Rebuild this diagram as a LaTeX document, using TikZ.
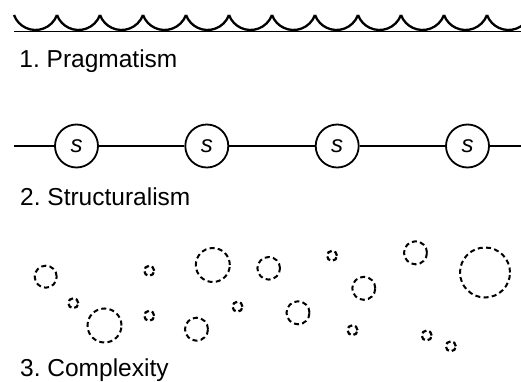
\documentclass[tikz,border=0pt]{standalone}
\usepackage{fontspec}
\setmainfont{Liberation Sans}
\frenchspacing
\begin{document}
\begin{tikzpicture}[x=1pt,y=1pt,
  caption/.style={anchor=base west,inner sep=0pt,font=\fontsize{24.5}{28}\selectfont},
  sbox/.style={circle,draw,line width=1.8pt,minimum size=43pt,inner sep=0pt,
    font=\fontsize{24}{26}\selectfont\itshape},
  link/.style={line width=1.8pt},
  scallop/.style={line width=2.3pt},
  bubble/.style={line width=2pt,dash pattern=on 5pt off 3.3pt},
  dot/.style={line width=2.2pt,dash pattern=on 5pt off 3pt}]
\useasboundingbox (0,0) rectangle (521,381);
\clip (0,0) rectangle (521,381);

% --- 1. scalloped edge above a base line
\draw[link] (14,349.5) -- (521,349.5);
\foreach \i in {0,...,12}{
  \draw[scallop] ({14+43*\i},366) arc[start angle=200.2,end angle=339.8,radius=22.9];
}
\node[caption] (t1) at (19.3,313) {1. Pragmatism};

% --- 2. chain of s-nodes
\coordinate (cstart) at (14,235);
\coordinate (cend) at (521,235);
\node[sbox] (s1) at (76.5,235) {s};
\node[sbox] (s2) at (206.8,235) {s};
\node[sbox] (s3) at (337.2,235) {s};
\node[sbox] (s4) at (467.5,235) {s};
\draw[link] (cstart) -- (s1) -- (s2) -- (s3) -- (s4) -- (cend);
\node[caption] (t2) at (20,176) {2. Structuralism};

% --- 3. scattered dashed bubbles
\foreach \x/\y/\r in {
  45.7/104.3/11,
  104.5/55.5/17,
  212.8/116/17,
  196.5/51.8/11.5,
  268.7/112.7/11.3,
  298/68.2/11.5,
  363.8/92.7/11.5,
  415.5/128.2/11.5,
  485/108.5/25}{
  \draw[bubble] (\x,\y) circle[radius=\r];
}
\foreach \x/\y in {
  73.3/77.8, 149.2/110.2, 149.2/65.2, 237.5/74.3, 332/125.2,
  352.5/50.8, 426.7/45.5, 450.8/34.7}{
  \draw[dot] (\x,\y) circle[radius=5];
}
\node[caption] (t3) at (20,5) {3. Complexity};
\end{tikzpicture}
\end{document}
